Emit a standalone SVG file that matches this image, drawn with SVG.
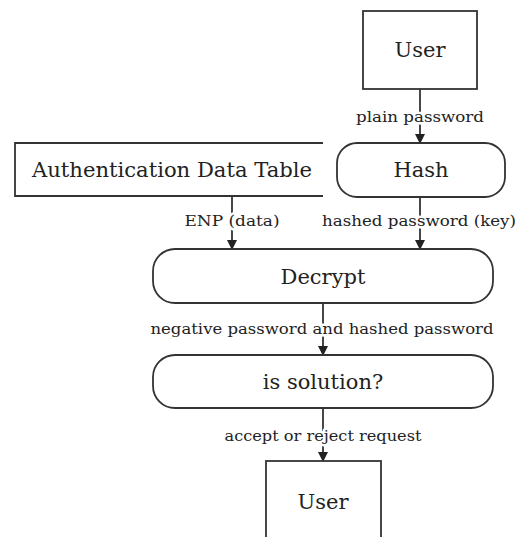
<svg xmlns="http://www.w3.org/2000/svg" width="520" height="537" viewBox="0 0 520 537">
<style>
  .box{fill:#fff;stroke:#333;stroke-width:1.8}
  .nt{font-family:"DejaVu Serif","Liberation Serif",serif;font-size:21px;fill:#222;text-anchor:middle}
  .lb{font-family:"DejaVu Serif","Liberation Serif",serif;font-size:15px;fill:#222;text-anchor:middle;stroke:#fff;stroke-width:5px;paint-order:stroke;stroke-linejoin:round}
  .cn{stroke:#333;stroke-width:1.8;fill:none;marker-end:url(#ah)}
</style>
<defs>
  <marker id="ah" markerWidth="10" markerHeight="10" refX="9" refY="5" orient="auto" markerUnits="userSpaceOnUse">
    <path d="M0,0 L10,5 L0,10 Z" fill="#222"/>
  </marker>
</defs>
<rect width="520" height="537" fill="#fff"/>
<g id="connectors">
  <path class="cn" d="M420,89 V143"/>
  <path class="cn" d="M232,196 V249"/>
  <path class="cn" d="M420,197 V249"/>
  <path class="cn" d="M323,303 V355"/>
  <path class="cn" d="M323,408 V461"/>
  <text class="lb" x="420" y="122" textLength="128" lengthAdjust="spacingAndGlyphs">plain password</text>
  <text class="lb" x="232" y="226" textLength="95" lengthAdjust="spacingAndGlyphs">ENP (data)</text>
  <text class="lb" x="419" y="226" textLength="194" lengthAdjust="spacingAndGlyphs">hashed password (key)</text>
  <text class="lb" x="322" y="334" textLength="343" lengthAdjust="spacingAndGlyphs">negative password and hashed password</text>
  <text class="lb" x="323" y="441" textLength="197" lengthAdjust="spacingAndGlyphs">accept or reject request</text>
</g>
<g id="user-top">
  <rect class="box" x="363" y="11" width="114" height="78"/>
  <text class="nt" x="420" y="57">User</text>
</g>
<g id="auth-table">
  <path d="M323,143 H15 V196 H323" class="box" fill="none"/>
  <text class="nt" x="172" y="177" textLength="280" lengthAdjust="spacingAndGlyphs">Authentication Data Table</text>
</g>
<g id="hash">
  <rect class="box" x="337" y="143" width="168" height="54" rx="20"/>
  <text class="nt" x="421" y="177">Hash</text>
</g>
<g id="decrypt">
  <rect class="box" x="153" y="249" width="340" height="54" rx="22"/>
  <text class="nt" x="323" y="284">Decrypt</text>
</g>
<g id="is-solution">
  <rect class="box" x="153" y="355" width="340" height="53" rx="22"/>
  <text class="nt" x="323" y="389">is solution?</text>
</g>
<g id="user-bottom">
  <rect class="box" x="266" y="461" width="115" height="90"/>
  <text class="nt" x="323" y="509">User</text>
</g>
</svg>
